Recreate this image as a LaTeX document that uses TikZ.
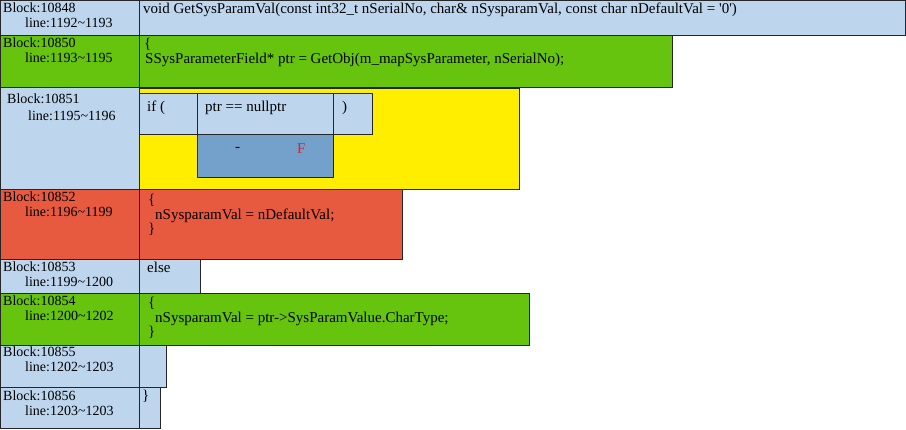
\documentclass[tikz,border=0pt]{standalone}
\usepackage{fontspec}
\setmainfont{Liberation Serif}
\usetikzlibrary{positioning}

\definecolor{cellblue}{RGB}{189,214,238}
\definecolor{condblue}{RGB}{116,160,204}
\definecolor{cellgreen}{RGB}{102,196,14}
\definecolor{cellyellow}{RGB}{255,238,0}
\definecolor{cellred}{RGB}{232,90,64}
\definecolor{falsered}{RGB}{230,30,40}

\begin{document}
\begin{tikzpicture}[x=1pt, y=-1pt]
			\tikzset{
				cell/.style={rectangle, anchor=north west, inner sep=0pt, outer sep=0pt, draw=black!85, line width=1pt},
				bluecell/.style={cell, fill=cellblue},
				greencell/.style={cell, fill=cellgreen},
				yellowcell/.style={cell, fill=cellyellow},
				redcell/.style={cell, fill=cellred},
				condcell/.style={cell, fill=condblue},
				label/.style={anchor=north west, inner sep=0pt, align=left, font=\fontsize{14}{14.5}\selectfont},
				code/.style={anchor=north west, inner sep=0pt, align=left, font=\fontsize{15}{14.5}\selectfont},
			}
			\useasboundingbox (0,0) rectangle (906,429);
			%block column
			\node[bluecell, minimum width=139pt, minimum height=35pt](blk48) at (0,0){};
			\node[greencell, minimum width=139pt, minimum height=52pt](blk50) at (0,35){};
			\node[bluecell, minimum width=139pt, minimum height=102pt](blk51) at (0,87){};
			\node[redcell, minimum width=139pt, minimum height=70pt](blk52) at (0,189){};
			\node[bluecell, minimum width=139pt, minimum height=34pt](blk53) at (0,259){};
			\node[greencell, minimum width=139pt, minimum height=52pt](blk54) at (0,293){};
			\node[bluecell, minimum width=139pt, minimum height=42pt](blk55) at (0,345){};
			\node[bluecell, minimum width=139pt, minimum height=41.5pt](blk56) at (0,387){};
			%code column
			\node[bluecell, minimum width=766pt, minimum height=35pt](src48) at (139,0){};
			\node[greencell, minimum width=533pt, minimum height=52pt](src50) at (139,35){};
			\node[yellowcell, minimum width=380pt, minimum height=101pt](src51) at (139,88){};
			\node[redcell, minimum width=263pt, minimum height=70pt](src52) at (139,189){};
			\node[bluecell, minimum width=61pt, minimum height=34pt](src53) at (139,259){};
			\node[greencell, minimum width=390pt, minimum height=52pt](src54) at (139,293){};
			\node[bluecell, minimum width=27pt, minimum height=42pt](src55) at (139,345){};
			\node[bluecell, minimum width=21pt, minimum height=41.5pt](src56) at (139,387){};
			%if statement
			\node[bluecell, minimum width=58pt, minimum height=41pt](ifopen) at (139,93){};
			\node[bluecell, minimum width=136pt, minimum height=41pt](cond) at (197,93){};
			\node[bluecell, minimum width=39pt, minimum height=41pt](ifclose) at (333,93){};
			\node[condcell, minimum width=136pt, minimum height=43pt](result) at (197,134){};
			%labels
			\node[label](lbl48) at (3,3){Block:10848\\\hspace*{22pt}line:1192\textasciitilde1193};
			\node[label](lbl50) at (3,38){Block:10850\\\hspace*{22pt}line:1193\textasciitilde1195};
			\node[label](lbl51) at (7,94){Block:10851\\[2.5pt]\hspace*{21pt}line:1195\textasciitilde1196};
			\node[label](lbl52) at (3,192){Block:10852\\\hspace*{22pt}line:1196\textasciitilde1199};
			\node[label](lbl53) at (3,262){Block:10853\\\hspace*{22pt}line:1199\textasciitilde1200};
			\node[label](lbl54) at (3,296){Block:10854\\\hspace*{22pt}line:1200\textasciitilde1202};
			\node[label](lbl55) at (3,347){Block:10855\\\hspace*{22pt}line:1202\textasciitilde1203};
			\node[label](lbl56) at (3,391){Block:10856\\\hspace*{22pt}line:1203\textasciitilde1203};
			%source text
			\node[code](txt48) at (143,3){void GetSysParamVal(const int32\_t nSerialNo, char\& nSysparamVal, const char nDefaultVal = \textquotesingle0\textquotesingle)};
			\node[code](txt50) at (144,38){\{\\\hspace*{1pt}SSysParameterField* ptr = GetObj(m\_mapSysParameter, nSerialNo);};
			\node[code](txtif) at (147,101){if (};
			\node[code](txtcond) at (205,101){ptr == nullptr};
			\node[code](txtclose) at (342,101){)};
			\node[code](txtdash) at (235,147){-};
			\node[code, text=falsered](txtfalse) at (297,143){F};
			\node[code](txt52) at (148,194){\{\\\hspace*{7pt}nSysparamVal = nDefaultVal;\\\}};
			\node[code](txt53) at (147,262){else};
			\node[code](txt54) at (148,297){\{\\\hspace*{7pt}nSysparamVal = ptr->SysParamValue.CharType;\\\}};
			\node[code](txt56) at (142,390){\}};
		\end{tikzpicture}
\end{document}
